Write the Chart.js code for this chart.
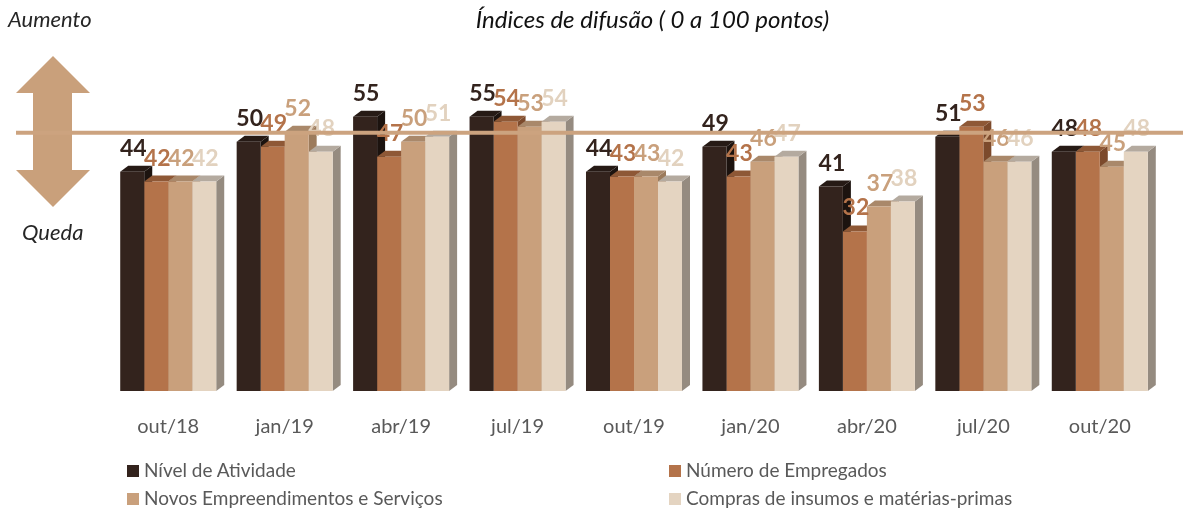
<!DOCTYPE html>
<html>
<head>
<meta charset="utf-8">
<script src="https://cdn.jsdelivr.net/npm/chart.js@4/dist/chart.umd.min.js"></script>
<style>
  html, body { margin: 0; padding: 0; background: #ffffff; }
  #wrap { position: relative; width: 1183px; height: 512px; overflow: hidden; font-family: Lato, "Open Sans", sans-serif; }
  #c { position: absolute; left: 0; top: 0; }
  .txt { position: absolute; white-space: nowrap; }
  #title { left: 0; width: 1305px; text-align: center; top: 4px; font-style: italic; font-size: 24px; color: #111; }
  #aumento { left: 8px; top: 5px; font-style: italic; font-size: 22px; color: #262626; }
  #queda { left: 22px; top: 218px; font-style: italic; font-size: 22px; color: #262626; }
  #arrow { position: absolute; left: 0; top: 0; }
  .leg { position: absolute; font-size: 19px; color: #595959; white-space: nowrap; }
  .leg span.sw { display: inline-block; width: 12px; height: 12px; margin-right: 5px; vertical-align: 0px; }
</style>
</head>
<body>
<div id="wrap">
  <svg id="arrow" width="120" height="260">
    <polygon points="53,56 90,93 72,93 72,170 90,170 53,207 16,170 33,170 33,93 16,93" fill="#c9a07b"/>
  </svg>
  <canvas id="c" width="1183" height="512"></canvas>
  <div class="txt" id="title">Índices de difusão ( 0 a 100 pontos)</div>
  <div class="txt" id="aumento">Aumento</div>
  <div class="txt" id="queda">Queda</div>
  <div id="legend"></div>
</div>
<script>
const categories = ['out/18','jan/19','abr/19','jul/19','out/19','jan/20','abr/20','jul/20','out/20'];
const nivelAtividade = [44, 50, 55, 55, 44, 49, 41, 51, 48];
const numeroEmpregados = [42, 49, 47, 54, 43, 43, 32, 53, 48];
const novosEmpreendimentos = [42, 52, 50, 53, 43, 46, 37, 46, 45];
const comprasInsumos = [42, 48, 51, 54, 42, 47, 38, 46, 48];
const seriesNames = ['Nível de Atividade', 'Número de Empregados', 'Novos Empreendimentos e Serviços', 'Compras de insumos e matérias-primas'];
const referenceLevel = 50;

const frontColors = ['#33231d', '#b4734a', '#c9a07c', '#e4d4c1'];
const sideColors  = ['#1c130f', '#7c4a2c', '#9c7b5c', '#958b80'];
const topColors   = ['#261a15', '#8e5836', '#a9886a', '#b4aa9f'];
const labelColors = ['#33231d', '#b4734a', '#c9a07c', '#e2d2bf'];

const DX = 8, DY = 6;

const bar3d = {
  id: 'bar3d',
  beforeDatasetsDraw(chart) {
    const ctx = chart.ctx;
    ctx.save();
    for (let j = 0; j < categories.length; j++) {
      for (let i = 0; i < chart.data.datasets.length; i++) {
        const el = chart.getDatasetMeta(i).data[j];
        const p = el.getProps(['x', 'y', 'base', 'width'], true);
        const l = p.x - p.width / 2, r = p.x + p.width / 2;
        ctx.fillStyle = sideColors[i];
        ctx.beginPath();
        ctx.moveTo(r, p.y); ctx.lineTo(r + DX, p.y - DY); ctx.lineTo(r + DX, p.base - DY); ctx.lineTo(r, p.base);
        ctx.closePath(); ctx.fill();
        ctx.fillStyle = topColors[i];
        ctx.beginPath();
        ctx.moveTo(l, p.y); ctx.lineTo(r, p.y); ctx.lineTo(r + DX, p.y - DY); ctx.lineTo(l + DX, p.y - DY);
        ctx.closePath(); ctx.fill();
      }
    }
    ctx.restore();
  },
  afterDatasetsDraw(chart) {
    const ctx = chart.ctx;
    ctx.save();
    ctx.font = 'bold 23px Lato, "Open Sans", sans-serif';
    ctx.textAlign = 'center';
    ctx.textBaseline = 'alphabetic';
    chart.data.datasets.forEach((ds, i) => {
      chart.getDatasetMeta(i).data.forEach((el, j) => {
        const p = el.getProps(['x', 'y'], true);
        ctx.fillStyle = labelColors[i];
        ctx.fillText(String(ds.data[j]), p.x + 1, p.y - 16);
      });
    });
    ctx.restore();
  },
  afterDraw(chart) {
    const ctx = chart.ctx;
    const yPix = chart.scales.y.getPixelForValue(referenceLevel) - DY - 3;
    ctx.save();
    ctx.strokeStyle = '#cca37f';
    ctx.lineWidth = 4;
    ctx.beginPath();
    ctx.moveTo(16, yPix); ctx.lineTo(1183, yPix);
    ctx.stroke();
    ctx.restore();
  }
};

const seriesData = [nivelAtividade, numeroEmpregados, novosEmpreendimentos, comprasInsumos];

new Chart(document.getElementById('c'), {
  type: 'bar',
  data: {
    labels: categories,
    datasets: seriesData.map((d, i) => ({
      label: seriesNames[i],
      data: d,
      backgroundColor: frontColors[i],
      borderWidth: 0,
      categoryPercentage: 0.8245,
      barPercentage: 1
    }))
  },
  options: {
    responsive: false,
    animation: false,
    devicePixelRatio: 1,
    layout: { padding: { left: 110, right: 25, top: 42, bottom: 49 } },
    plugins: { legend: { display: false }, tooltip: { enabled: false }, title: { display: false } },
    scales: {
      x: {
        grid: { display: false, drawTicks: false },
        border: { display: false },
        ticks: { color: '#595959', font: { family: 'Lato', size: 20 }, padding: 24, maxRotation: 0 }
      },
      y: { display: false, min: 0, max: 70 }
    }
  },
  plugins: [bar3d]
});

const legend = document.getElementById('legend');
const legPos = [[127, 458], [669, 458], [127, 486], [669, 486]];
seriesNames.forEach((name, i) => {
  const d = document.createElement('div');
  d.className = 'leg';
  d.style.left = legPos[i][0] + 'px';
  d.style.top = legPos[i][1] + 'px';
  d.innerHTML = '<span class="sw" style="background:' + frontColors[i] + '"></span>' + name;
  legend.appendChild(d);
});
</script>
</body>
</html>
